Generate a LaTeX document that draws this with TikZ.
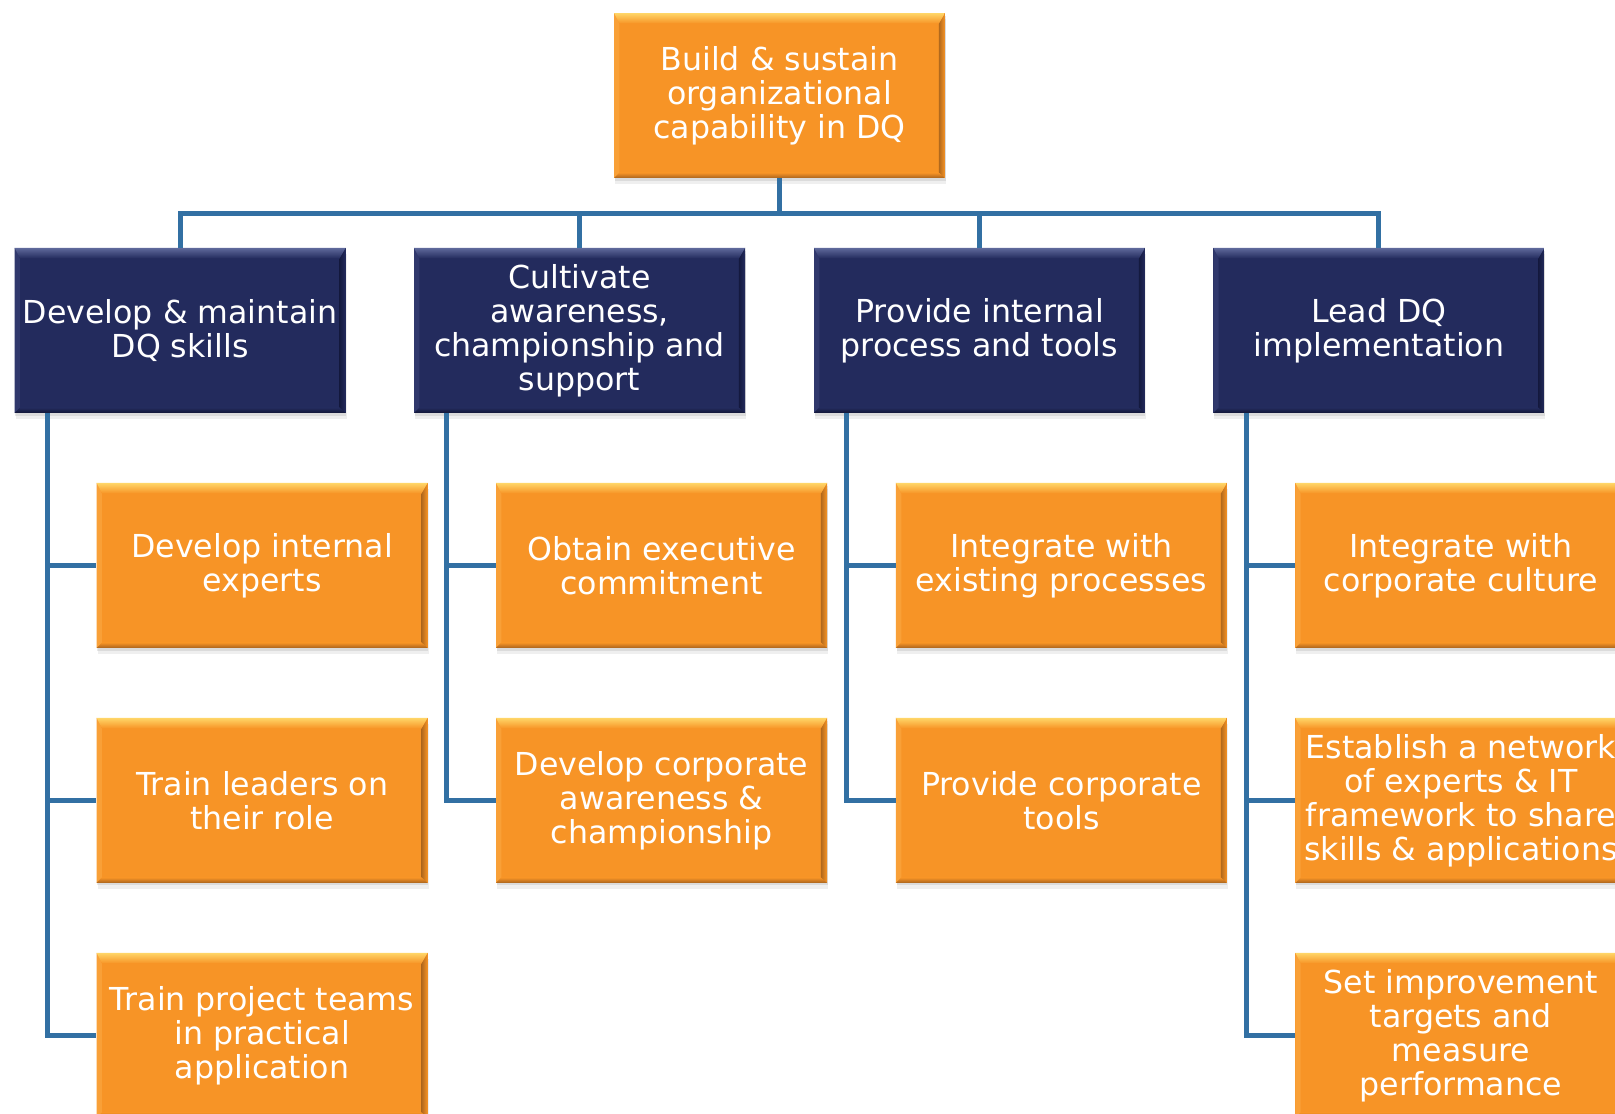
\documentclass[tikz,border=0pt]{standalone}
\usepackage{fontspec}
\setmainfont{DejaVu Sans}
\usetikzlibrary{positioning,shadows}

\definecolor{orng}{RGB}{247,148,38}
\definecolor{orngtop}{RGB}{255,214,104}
\definecolor{orngleft}{RGB}{249,160,55}
\definecolor{orngright}{RGB}{176,104,28}
\definecolor{orngbot}{RGB}{170,100,30}
\definecolor{navy}{RGB}{35,43,93}
\definecolor{navytop}{RGB}{95,105,155}
\definecolor{navyleft}{RGB}{48,56,108}
\definecolor{navyright}{RGB}{20,25,62}
\definecolor{navybot}{RGB}{18,22,55}
\definecolor{linkblue}{RGB}{50,112,163}

\tikzset{
  bevel/.style n args={5}{path picture={
    \path (path picture bounding box.north west) coordinate (pnw)
          (path picture bounding box.north east) coordinate (pne)
          (path picture bounding box.south west) coordinate (psw)
          (path picture bounding box.south east) coordinate (pse);
    \fill[#3] (pnw) -- ([shift={(3pt,-6pt)}]pnw) -- ([shift={(3pt,3pt)}]psw) -- (psw) -- cycle;
    \shade[left color=#4,right color=#1] (pne) -- ([shift={(-3.5pt,-6pt)}]pne) -- ([shift={(-3.5pt,3pt)}]pse) -- (pse) -- cycle;
    \shade[bottom color=#5,top color=#1] (psw) -- ([shift={(3pt,3pt)}]psw) -- ([shift={(-3.5pt,3pt)}]pse) -- (pse) -- cycle;
    \shade[top color=#2,bottom color=#1] (pnw) -- (pne) -- ([shift={(-3.5pt,-6pt)}]pne) -- ([shift={(3pt,-6pt)}]pnw) -- cycle;
  }}
}

\begin{document}
\begin{tikzpicture}[x=0.02cm,y=0.02cm,node distance=4.7cm,on grid,
  link/.style={draw=linkblue,line width=0.1cm},
  box/.style={rectangle,minimum width=6.62cm,minimum height=3.3cm,inner sep=0pt,align=center,text=white,
    font=\fontsize{18}{19.35}\selectfont,
    drop shadow={shadow xshift=0.3pt,shadow yshift=-1.5pt,opacity=0.18},
    drop shadow={shadow xshift=0.6pt,shadow yshift=-3.5pt,opacity=0.12}},
  task node/.style={box,fill=orng,bevel={orng}{orngtop}{orngleft}{orngright}{orngbot}},
  goal node/.style={box,fill=navy,bevel={navy}{navytop}{navyleft}{navyright}{navybot}}]

  \useasboundingbox[fill=white] (0,0) rectangle (1615,-1114);
  \clip (0,0) rectangle (1615,-1114);

  \node[task node] (G) at (779.5,-95.5) {Build \& sustain\\organizational\\capability in DQ};

  \node[goal node] (B) [below left=4.7cm and 4cm of G] {Cultivate\\awareness,\\championship and\\support};
  \node[goal node] (A) [left=7.99cm of B] {Develop \& maintain\\DQ skills};
  \node[goal node] (C) [right=8cm of B] {Provide internal\\process and tools};
  \node[goal node] (D) [right=7.99cm of C] {Lead DQ\\implementation};

  \node[task node] (A1) [below right=4.7cm and 1.64cm of A] {Develop internal\\experts};
  \node[task node] (A2) [below=of A1] {Train leaders on\\their role};
  \node[task node] (A3) [below=of A2] {Train project teams\\in practical\\application};

  \node[task node] (B1) [below right=4.7cm and 1.64cm of B] {Obtain executive\\commitment};
  \node[task node] (B2) [below=of B1] {Develop corporate\\awareness \&\\championship};

  \node[task node] (C1) [below right=4.7cm and 1.64cm of C] {Integrate with\\existing processes};
  \node[task node] (C2) [below=of C1] {Provide corporate\\tools};

  \node[task node] (D1) [below right=4.7cm and 1.64cm of D] {Integrate with\\corporate culture};
  \node[task node] (D2) [below=of D1] {Establish a network\\of experts \& IT\\framework to share\\skills \& applications};
  \node[task node] (D3) [below=of D2] {Set improvement\\targets and\\measure\\performance};

  % top level
  \draw[link] (G.south) -- ++(0,-35) -| (A.north);
  \draw[link] (G.south) -- ++(0,-35) -| (B.north);
  \draw[link] (G.south) -- ++(0,-35) -| (C.north);
  \draw[link] (G.south) -- ++(0,-35) -| (D.north);

  % second level
  \draw[link] ([xshift=0.66cm]A.south west) |- (A1.west);
  \draw[link] ([xshift=0.66cm]A.south west) |- (A2.west);
  \draw[link] ([xshift=0.66cm]A.south west) |- (A3.west);
  \draw[link] ([xshift=0.66cm]B.south west) |- (B1.west);
  \draw[link] ([xshift=0.66cm]B.south west) |- (B2.west);
  \draw[link] ([xshift=0.66cm]C.south west) |- (C1.west);
  \draw[link] ([xshift=0.66cm]C.south west) |- (C2.west);
  \draw[link] ([xshift=0.66cm]D.south west) |- (D1.west);
  \draw[link] ([xshift=0.66cm]D.south west) |- (D2.west);
  \draw[link] ([xshift=0.66cm]D.south west) |- (D3.west);
\end{tikzpicture}
\end{document}
